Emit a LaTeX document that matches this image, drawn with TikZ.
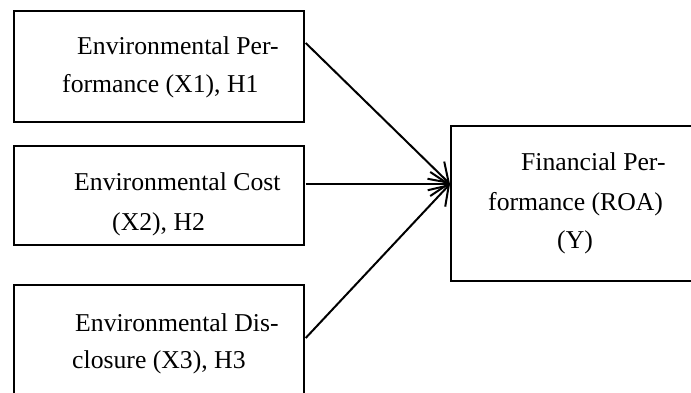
\documentclass[tikz,border=0pt]{standalone}
\usepackage{fontspec}
\setmainfont{Liberation Serif}
\usetikzlibrary{arrows.meta,calc}
\begin{document}
\begin{tikzpicture}[x=1pt,y=-1pt,
  box/.style={draw,line width=1.7pt,rectangle,inner sep=0pt,anchor=north west},
  txt/.style={anchor=base west,inner sep=0pt,font=\fontsize{25.7}{38}\selectfont},
  link/.style={line width=2pt,-{Straight Barb[length=18pt,width=24pt,line width=2pt]}}]
\useasboundingbox (0,0) rectangle (691,393);
\clip (0,0) rectangle (691,393);
\node[box,minimum width=290pt,minimum height=111pt] (b1) at (13,10) {};
\node[box,minimum width=290pt,minimum height=99pt] (b2) at (13,145) {};
\node[box,minimum width=290pt,minimum height=130pt] (b3) at (13,284) {};
\node[box,minimum width=260pt,minimum height=155pt] (y) at (450,125) {};
\node[txt] (b1a) at (77,55) {Environmental Per-};
\node[txt] (b1b) at (62,93) {formance (X1), H1};
\node[txt] (b2a) at (74,190) {Environmental Cost};
\node[txt] (b2b) at (112,230) {(X2), H2};
\node[txt] (b3a) at (75,331) {Environmental Dis-};
\node[txt] (b3b) at (72,368) {closure (X3), H3};
\node[txt] (ya) at (521,171) {Financial Per-};
\node[txt] (yb) at (488,210) {formance (ROA)};
\node[txt] (yc) at (557,248) {(Y)};
\coordinate (s1) at ($(b1.north east)+(1,33)$);
\coordinate (s2) at ($(b2.north east)+(1,39)$);
\coordinate (s3) at ($(b3.north east)+(1,54)$);
\coordinate (t) at ($(y.north west)+(0,59)$);
\draw[link] (s1) -- (t);
\draw[link] (s2) -- (t);
\draw[link] (s3) -- (t);
\end{tikzpicture}
\end{document}
